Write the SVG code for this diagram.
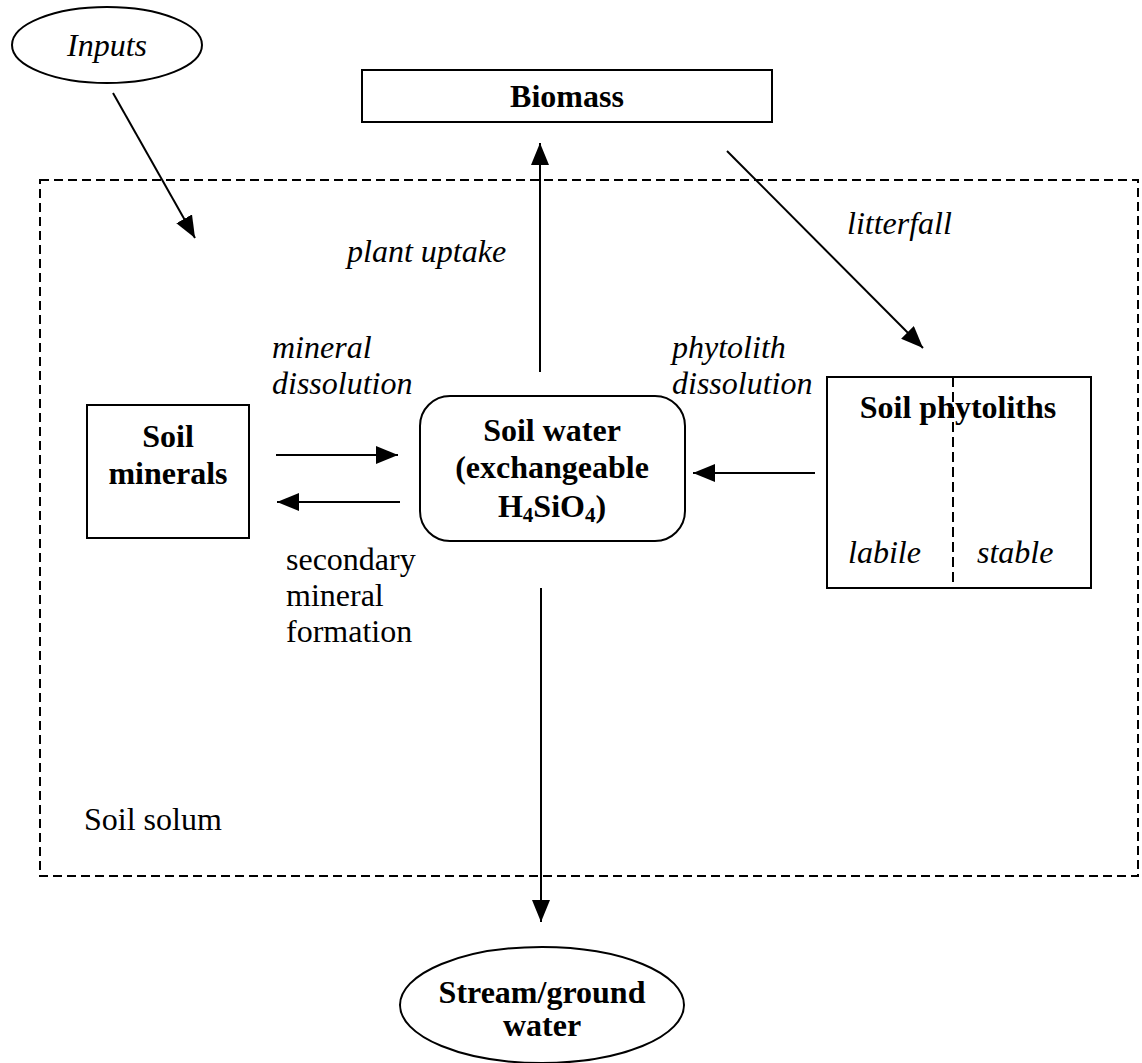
<svg xmlns="http://www.w3.org/2000/svg" width="1142" height="1063" viewBox="0 0 1142 1063">
<style>
text{font-family:"Liberation Serif","Times New Roman",serif;font-size:32px;fill:#000}
.b{font-weight:bold}
.i{font-style:italic}
.shape{fill:#fff;stroke:#000;stroke-width:2}
.conn{stroke:#000;stroke-width:2;fill:none}
.dash{fill:none;stroke:#000;stroke-width:2;stroke-dasharray:9 5}
</style>
<defs>
<marker id="ah" viewBox="0 0 22 18" refX="22" refY="9" markerWidth="22" markerHeight="18" markerUnits="userSpaceOnUse" orient="auto">
<path d="M0,0 L22,9 L0,18 z" fill="#000"/>
</marker>
</defs>
<g id="soil-solum">
<rect class="dash" x="40" y="180" width="1098" height="696"/>
<text x="84" y="830">Soil solum</text>
</g>
<g id="inputs">
<ellipse class="shape" cx="107" cy="45" rx="95" ry="38"/>
<text class="i" x="107" y="56" text-anchor="middle">Inputs</text>
</g>
<g id="biomass">
<rect class="shape" x="362" y="70" width="410" height="52"/>
<text class="b" x="567" y="107" text-anchor="middle">Biomass</text>
</g>
<g id="soil-minerals">
<rect class="shape" x="87" y="405" width="162" height="133"/>
<text class="b" x="168" y="447" text-anchor="middle">Soil</text>
<text class="b" x="168" y="484" text-anchor="middle">minerals</text>
</g>
<g id="soil-water">
<rect class="shape" x="420" y="396" width="265" height="145" rx="30" ry="30"/>
<text class="b" x="552" y="441" text-anchor="middle">Soil water</text>
<text class="b" x="552" y="478" text-anchor="middle">(exchangeable</text>
<text class="b" x="552" y="517" text-anchor="middle">H<tspan font-size="21" dy="5">4</tspan><tspan dy="-5">SiO</tspan><tspan font-size="21" dy="5">4</tspan><tspan dy="-5">)</tspan></text>
</g>
<g id="soil-phytoliths">
<rect class="shape" x="827" y="377" width="264" height="211"/>
<line x1="953" y1="377" x2="953" y2="588" stroke="#000" stroke-width="2" stroke-dasharray="10 5"/>
<text class="b" x="958" y="418" text-anchor="middle">Soil phytoliths</text>
<text class="i" x="848" y="563">labile</text>
<text class="i" x="977" y="563">stable</text>
</g>
<g id="stream">
<ellipse class="shape" cx="542" cy="1005" rx="142" ry="58"/>
<text class="b" x="542" y="1003" text-anchor="middle">Stream/ground</text>
<text class="b" x="542" y="1036" text-anchor="middle">water</text>
</g>
<g id="connectors">
<line class="conn" x1="113" y1="93" x2="195" y2="238" marker-end="url(#ah)"/>
<line class="conn" x1="540" y1="372" x2="540" y2="143" marker-end="url(#ah)"/>
<line class="conn" x1="727" y1="151" x2="923" y2="348" marker-end="url(#ah)"/>
<line class="conn" x1="276" y1="455" x2="398" y2="455" marker-end="url(#ah)"/>
<line class="conn" x1="400" y1="502" x2="277" y2="502" marker-end="url(#ah)"/>
<line class="conn" x1="815" y1="473" x2="693" y2="473" marker-end="url(#ah)"/>
<line class="conn" x1="541" y1="588" x2="541" y2="922" marker-end="url(#ah)"/>
</g>
<g id="labels">
<text class="i" x="347" y="262">plant uptake</text>
<text class="i" x="847" y="234">litterfall</text>
<text class="i" x="272" y="358">mineral</text>
<text class="i" x="272" y="394">dissolution</text>
<text class="i" x="672" y="358">phytolith</text>
<text class="i" x="672" y="394">dissolution</text>
<text x="286" y="570">secondary</text>
<text x="286" y="606">mineral</text>
<text x="286" y="642">formation</text>
</g>
</svg>
